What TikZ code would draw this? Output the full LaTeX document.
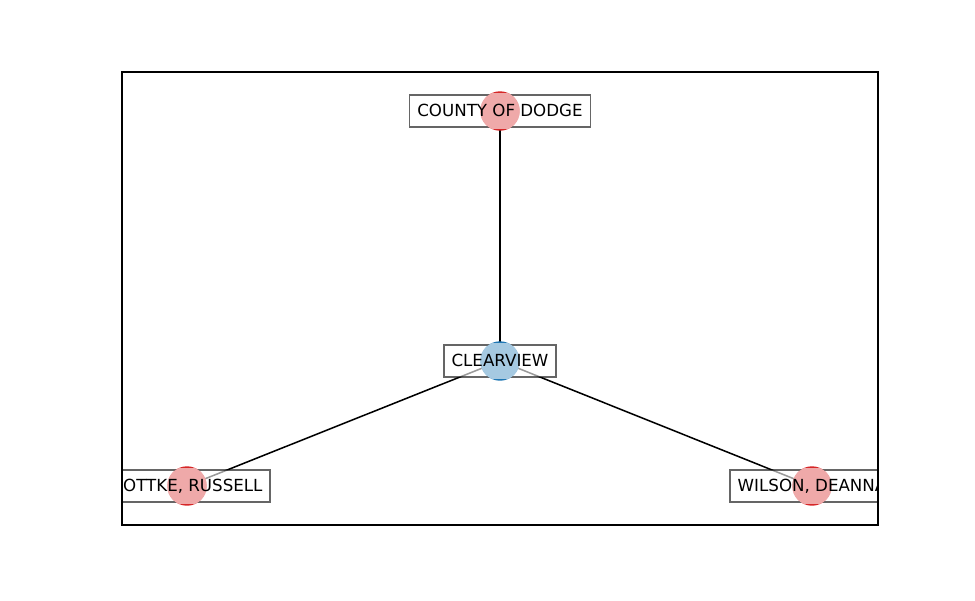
\documentclass[tikz,border=0pt]{standalone}
\usepackage{fontspec}
\setmainfont{DejaVu Sans}
\definecolor{tabred}{RGB}{214,39,40}
\definecolor{tabblue}{RGB}{31,119,180}
\tikzset{
  edge/.style={line width=1.1pt},
  dot/.style={circle, minimum size=28.4pt, inner sep=0pt},
  labelbox/.style={draw=black, fill=white, opacity=0.6, line width=1.2pt, font=\fontsize{12}{14}\selectfont,
    inner xsep=5.6pt, inner ysep=0pt, minimum height=23pt, text height=8.8pt, text depth=2.6pt},
  labeltext/.style={font=\fontsize{12}{14}\selectfont,
    inner xsep=5.6pt, inner ysep=0pt, minimum height=23pt, text height=8.8pt, text depth=2.6pt},
}
\begin{document}
\begin{tikzpicture}[x=0.72pt,y=-0.72pt]
  \useasboundingbox (0,0) rectangle (975,600);
  \coordinate (dodge) at (500,111);
  \coordinate (clear) at (500,361);
  \coordinate (rottke) at (187,486);
  \coordinate (wilson) at (812,486);
  \begin{scope}
    \clip (122,72) rectangle (878,525);
    \draw[edge] (clear) -- (dodge);
    \draw[edge] (clear) -- (rottke);
    \draw[edge] (clear) -- (wilson);
    \foreach \n/\c/\t in {dodge/tabred/COUNTY OF DODGE, clear/tabblue/CLEARVIEW,
        rottke/tabred/{ROTTKE, RUSSELL}, wilson/tabred/{WILSON, DEANNA}}{
      \node[dot, fill=\c] (\n-dot) at (\n) {};
      \node[labelbox] (\n-box) at (\n) {\phantom{\t}};
      \begin{scope}
        \clip ([shift={(-0.6pt,-0.6pt)}]\n-box.south west) rectangle ([shift={(0.6pt,0.6pt)}]\n-box.north east);
        \fill[\c!40!white] (\n) circle (14.2pt);
      \end{scope}
      \node[labeltext] (\n-text) at ([yshift=-0.5pt]\n) {\t};
    }
  \end{scope}
  \draw[line width=0.8pt] (122,72) rectangle (878,525);
\end{tikzpicture}
\end{document}
